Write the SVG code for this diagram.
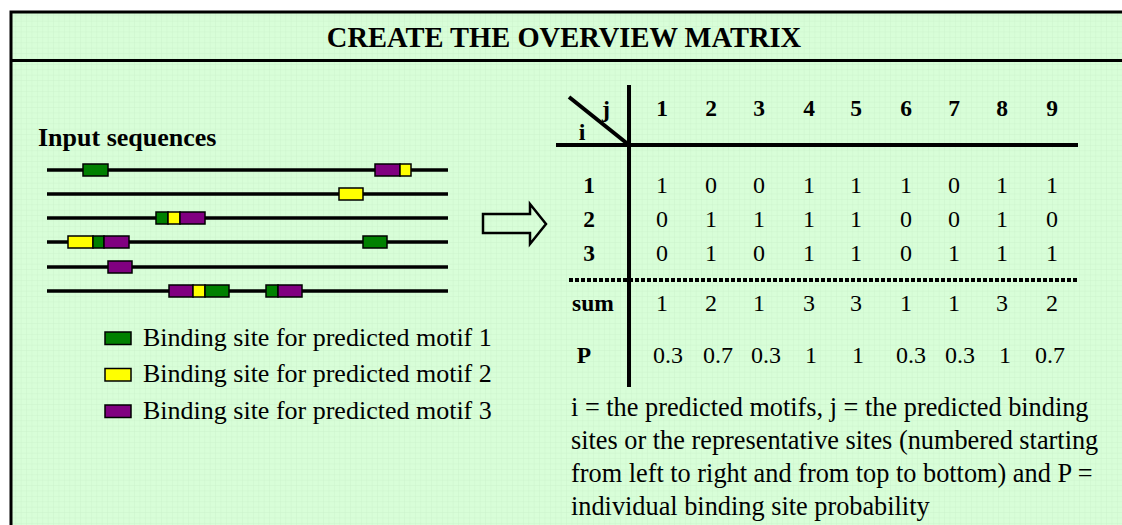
<svg xmlns="http://www.w3.org/2000/svg" width="1122" height="525" viewBox="0 0 1122 525">
<defs>
<pattern id="grid" width="5.4" height="5.4" patternUnits="userSpaceOnUse">
<rect width="5.4" height="5.4" fill="#D8FED8"/>
<path d="M5.4 0V5.4H0" fill="none" stroke="#C9EFC9" stroke-width="0.7"/>
</pattern>
<style>
.t{font-family:"Liberation Serif","Times New Roman",serif;fill:#000}
.b{font-weight:bold}
.seq{stroke:#000;stroke-width:3.5}
.g{fill:#008000;stroke:#000;stroke-width:1.5}
.y{fill:#FFFF00;stroke:#000;stroke-width:1.5}
.p{fill:#800080;stroke:#000;stroke-width:1.5}
.m{font-size:24px;text-anchor:middle}
.h{font-size:23.5px;text-anchor:middle}
.ln{stroke:#000;stroke-width:4;fill:none}
</style>
</defs>
<rect width="1122" height="525" fill="#fff"/>
<g id="panel">
<rect x="11" y="12" width="1130" height="530" fill="url(#grid)" stroke="#000" stroke-width="3"/>
<line x1="11" y1="60.5" x2="1122" y2="60.5" stroke="#000" stroke-width="3"/>
<text class="t b" x="564" y="47" font-size="28.5" text-anchor="middle">CREATE THE OVERVIEW MATRIX</text>
</g>
<g id="sequences">
<text class="t b" x="38" y="146" font-size="26">Input sequences</text>
<line class="seq" x1="47" y1="170" x2="448" y2="170"/>
<line class="seq" x1="47" y1="194" x2="448" y2="194"/>
<line class="seq" x1="47" y1="218" x2="448" y2="218"/>
<line class="seq" x1="47" y1="242" x2="448" y2="242"/>
<line class="seq" x1="47" y1="267" x2="448" y2="267"/>
<line class="seq" x1="47" y1="291" x2="448" y2="291"/>
<rect class="g" x="83" y="164" width="25" height="12"/>
<rect class="p" x="375" y="164" width="25" height="12"/>
<rect class="y" x="400" y="164" width="11" height="12"/>
<rect class="y" x="339" y="188" width="24" height="12"/>
<rect class="g" x="156" y="212" width="12" height="12"/>
<rect class="y" x="168" y="212" width="12" height="12"/>
<rect class="p" x="180" y="212" width="25" height="12"/>
<rect class="y" x="68" y="236" width="25" height="12"/>
<rect class="g" x="93" y="236" width="11" height="12"/>
<rect class="p" x="104" y="236" width="25" height="12"/>
<rect class="g" x="363" y="236" width="24" height="12"/>
<rect class="p" x="108" y="261" width="24" height="12"/>
<rect class="p" x="169" y="285" width="24" height="12"/>
<rect class="y" x="193" y="285" width="12" height="12"/>
<rect class="g" x="205" y="285" width="24" height="12"/>
<rect class="g" x="266" y="285" width="12" height="12"/>
<rect class="p" x="278" y="285" width="24" height="12"/>
</g>
<g id="legend">
<rect class="g" x="105" y="332" width="26" height="12.5"/>
<text class="t" x="143" y="345.5" font-size="26">Binding site for predicted motif 1</text>
<rect class="y" x="105" y="368.5" width="26" height="12.5"/>
<text class="t" x="143" y="382" font-size="26">Binding site for predicted motif 2</text>
<rect class="p" x="105" y="405" width="26" height="12.5"/>
<text class="t" x="143" y="418.5" font-size="26">Binding site for predicted motif 3</text>
</g>
<g id="connectors">
<path d="M483 214H530V204L546 224L530 244V233H483Z" fill="none" stroke="#000" stroke-width="2.5" stroke-linejoin="miter"/>
</g>
<g id="matrix">
<line class="ln" x1="629" y1="85" x2="629" y2="387"/>
<line class="ln" x1="556" y1="145" x2="1078" y2="145"/>
<line class="ln" x1="569" y1="97" x2="629" y2="145" stroke-width="3.5"/>
<line x1="569" y1="280" x2="1078" y2="280" stroke="#000" stroke-width="4" stroke-dasharray="4 2"/>
<text class="t b" x="606" y="117" font-size="24" text-anchor="middle">j</text>
<text class="t b" x="582" y="140" font-size="24" text-anchor="middle">i</text>
<g class="t b h">
<text x="662" y="116">1</text><text x="711" y="116">2</text><text x="759" y="116">3</text><text x="809" y="116">4</text><text x="856" y="116">5</text><text x="906" y="116">6</text><text x="954" y="116">7</text><text x="1002" y="116">8</text><text x="1052" y="116">9</text>
<text x="589" y="193">1</text><text x="589" y="227">2</text><text x="589" y="261">3</text><text x="593" y="311">sum</text><text x="584" y="363">P</text>
</g>
<g class="t m">
<text x="662" y="193">1</text><text x="711" y="193">0</text><text x="759" y="193">0</text><text x="809" y="193">1</text><text x="856" y="193">1</text><text x="906" y="193">1</text><text x="954" y="193">0</text><text x="1002" y="193">1</text><text x="1052" y="193">1</text>
<text x="662" y="227">0</text><text x="711" y="227">1</text><text x="759" y="227">1</text><text x="809" y="227">1</text><text x="856" y="227">1</text><text x="906" y="227">0</text><text x="954" y="227">0</text><text x="1002" y="227">1</text><text x="1052" y="227">0</text>
<text x="662" y="261">0</text><text x="711" y="261">1</text><text x="759" y="261">0</text><text x="809" y="261">1</text><text x="856" y="261">1</text><text x="906" y="261">0</text><text x="954" y="261">1</text><text x="1002" y="261">1</text><text x="1052" y="261">1</text>
<text x="662" y="311">1</text><text x="711" y="311">2</text><text x="759" y="311">1</text><text x="809" y="311">3</text><text x="856" y="311">3</text><text x="906" y="311">1</text><text x="954" y="311">1</text><text x="1002" y="311">3</text><text x="1052" y="311">2</text>
<text x="668" y="363">0.3</text><text x="718" y="363">0.7</text><text x="766" y="363">0.3</text><text x="811" y="363">1</text><text x="858" y="363">1</text><text x="911" y="363">0.3</text><text x="960" y="363">0.3</text><text x="1005" y="363">1</text><text x="1050" y="363">0.7</text>
</g>
</g>
<g id="note">
<text class="t" font-size="26.3"><tspan x="571" y="416">i = the predicted motifs, j = the predicted binding</tspan><tspan x="571" y="449">sites or the representative sites (numbered starting</tspan><tspan x="571" y="482">from left to right and from top to bottom) and P =</tspan><tspan x="571" y="515">individual binding site probability</tspan></text>
</g>
</svg>
